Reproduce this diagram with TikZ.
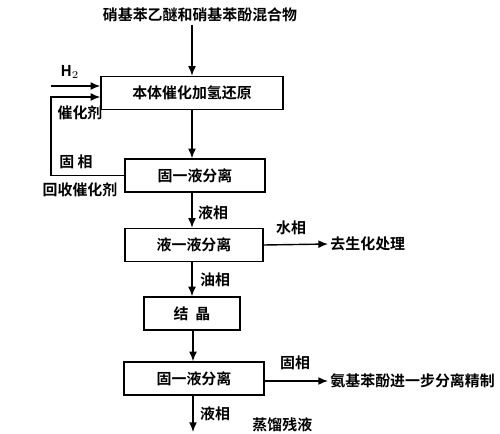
\documentclass[tikz,border=0pt]{standalone}
\usepackage{fontspec}
\setmainfont{Noto Sans CJK SC Bold}
\usetikzlibrary{arrows.meta}
\begin{document}
\begin{tikzpicture}[x=0.02cm, y=-0.02cm, line width=0.8pt, >={Latex[length=5.5pt,width=4.5pt]},
  box/.style={draw, minimum height=0.66cm, inner sep=0pt},
  txt/.style={font=\fontsize{8.5}{10}\selectfont, inner sep=1pt}]
\useasboundingbox (0,0) rectangle (500,433);
\node[txt] (feed) at (200,15) {硝基苯乙醚和硝基苯酚混合物};
\node[box, txt, minimum width=3.64cm] (hydro) at (192,93) {本体催化加氢还原};
\node[box, txt, minimum width=2.8cm] (sep1) at (195,175.5) {固一液分离};
\node[box, txt, minimum width=2.76cm] (sep2) at (194,245) {液一液分离};
\node[box, txt, minimum width=1.92cm] (cryst) at (192,313.5) {结\ \ 晶};
\node[box, txt, minimum width=2.8cm] (sep3) at (194,378.5) {固一液分离};
\coordinate (h2in) at (51,86);
\coordinate (catin) at (51,97);
\coordinate (liqend) at (192,432);
\node[txt] (h2) at (70,72) {H$_2$};
\node[txt] (cat) at (80,113) {催化剂};
\node[txt] (solid1) at (76,162) {固\ 相};
\node[txt] (recov) at (80,190) {回收催化剂};
\node[txt] (liq1) at (213,213) {液相};
\node[txt] (water) at (291,228) {水相};
\node[txt, anchor=west] (bio) at (328,244) {去生化处理};
\node[txt] (oil) at (215,280) {油相};
\node[txt] (solid2) at (295,363) {固相};
\node[txt, anchor=west] (amino) at (328,381) {氨基苯酚进一步分离精制};
\node[txt] (liq2) at (215,414) {液相};
\node[txt, anchor=west] (resid) at (250,425) {蒸馏残液};
% main line
\draw[->] (feed.south -| hydro.north) -- (hydro.north);
\draw[->] (hydro.south) -- (hydro.south |- sep1.north);
\draw[->] (sep1.south -| 192,0) -- (sep2.north -| 192,0);
\draw[->] (sep2.south -| 192,0) -- (cryst.north -| 192,0);
\draw[->] (cryst.south -| 193,0) -- (sep3.north -| 193,0);
\draw[->] (sep3.south -| 193,0) -- (liqend -| 193,0);
% H2 and catalyst loop
\draw[->] (h2in) -- (h2in -| hydro.west);
\draw[->] (sep1.west) -| (catin) -- (catin -| hydro.west);
% side outputs
\draw[->] (sep2.east) -- (bio.west);
\draw[->] (sep3.east |- amino.west) -- (amino.west);
\end{tikzpicture}
\end{document}
